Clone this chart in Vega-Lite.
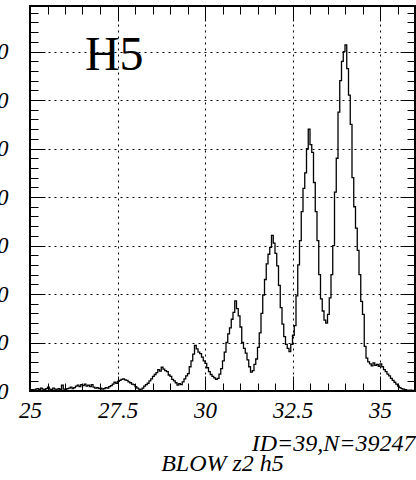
{
  "$schema": "https://vega.github.io/schema/vega-lite/v6.json",
  "autosize": {"type": "none"},
  "padding": {"left": 30, "top": 6, "right": 1, "bottom": 89},
  "width": 385,
  "height": 385,
  "background": "white",
  "config": {
    "view": {"stroke": "#000", "strokeWidth": 2},
    "axis": {"domain": false, "tickColor": "#000", "tickWidth": 1, "labelColor": "#000", "titleColor": "#000"}
  },
  "data": {"values": [
    {"x":25.00,"n":2},{"x":25.05,"n":3},{"x":25.10,"n":2},{"x":25.15,"n":4},{"x":25.20,"n":5},{"x":25.25,"n":3},{"x":25.30,"n":6},{"x":25.35,"n":4},{"x":25.40,"n":3},{"x":25.45,"n":5},
    {"x":25.50,"n":8},{"x":25.55,"n":4},{"x":25.60,"n":3},{"x":25.65,"n":6},{"x":25.70,"n":4},{"x":25.75,"n":2},{"x":25.80,"n":5},{"x":25.85,"n":3},{"x":25.90,"n":12},{"x":25.95,"n":4},
    {"x":26.00,"n":3},{"x":26.05,"n":5},{"x":26.10,"n":6},{"x":26.15,"n":8},{"x":26.20,"n":5},{"x":26.25,"n":7},{"x":26.30,"n":10},{"x":26.35,"n":12},{"x":26.40,"n":9},{"x":26.45,"n":13},
    {"x":26.50,"n":11},{"x":26.55,"n":14},{"x":26.60,"n":10},{"x":26.65,"n":12},{"x":26.70,"n":9},{"x":26.75,"n":13},{"x":26.80,"n":8},{"x":26.85,"n":6},{"x":26.90,"n":7},{"x":26.95,"n":5},
    {"x":27.00,"n":6},{"x":27.05,"n":4},{"x":27.10,"n":5},{"x":27.15,"n":7},{"x":27.20,"n":6},{"x":27.25,"n":9},{"x":27.30,"n":11},{"x":27.35,"n":14},{"x":27.40,"n":18},{"x":27.45,"n":16},
    {"x":27.50,"n":20},{"x":27.55,"n":22},{"x":27.60,"n":24},{"x":27.65,"n":25},{"x":27.70,"n":23},{"x":27.75,"n":22},{"x":27.80,"n":19},{"x":27.85,"n":17},{"x":27.90,"n":14},{"x":27.95,"n":13},
    {"x":28.00,"n":9},{"x":28.05,"n":6},{"x":28.10,"n":4},{"x":28.15,"n":2},{"x":28.20,"n":6},{"x":28.25,"n":10},{"x":28.30,"n":13},{"x":28.35,"n":16},{"x":28.40,"n":21},{"x":28.45,"n":25},
    {"x":28.50,"n":30},{"x":28.55,"n":34},{"x":28.60,"n":38},{"x":28.65,"n":44},{"x":28.70,"n":41},{"x":28.75,"n":49},{"x":28.80,"n":45},{"x":28.85,"n":42},{"x":28.90,"n":40},{"x":28.95,"n":33},
    {"x":29.00,"n":30},{"x":29.05,"n":24},{"x":29.10,"n":21},{"x":29.15,"n":17},{"x":29.20,"n":12},{"x":29.25,"n":15},{"x":29.30,"n":13},{"x":29.35,"n":19},{"x":29.40,"n":25},{"x":29.45,"n":31},
    {"x":29.50,"n":36},{"x":29.55,"n":50},{"x":29.60,"n":62},{"x":29.65,"n":76},{"x":29.70,"n":94},{"x":29.75,"n":87},{"x":29.80,"n":80},{"x":29.85,"n":77},{"x":29.90,"n":70},{"x":29.95,"n":62},
    {"x":30.00,"n":57},{"x":30.05,"n":48},{"x":30.10,"n":40},{"x":30.15,"n":34},{"x":30.20,"n":30},{"x":30.25,"n":27},{"x":30.30,"n":24},{"x":30.35,"n":26},{"x":30.40,"n":35},{"x":30.45,"n":46},
    {"x":30.50,"n":62},{"x":30.55,"n":80},{"x":30.60,"n":100},{"x":30.65,"n":118},{"x":30.70,"n":130},{"x":30.75,"n":148},{"x":30.80,"n":162},{"x":30.85,"n":186},{"x":30.90,"n":170},{"x":30.95,"n":155},
    {"x":31.00,"n":132},{"x":31.05,"n":100},{"x":31.10,"n":88},{"x":31.15,"n":78},{"x":31.20,"n":64},{"x":31.25,"n":50},{"x":31.30,"n":39},{"x":31.35,"n":42},{"x":31.40,"n":55},{"x":31.45,"n":66},
    {"x":31.50,"n":90},{"x":31.55,"n":120},{"x":31.60,"n":160},{"x":31.65,"n":198},{"x":31.70,"n":230},{"x":31.75,"n":262},{"x":31.80,"n":282},{"x":31.85,"n":296},{"x":31.90,"n":321},{"x":31.95,"n":305},
    {"x":32.00,"n":284},{"x":32.05,"n":258},{"x":32.10,"n":218},{"x":32.15,"n":172},{"x":32.20,"n":138},{"x":32.25,"n":112},{"x":32.30,"n":96},{"x":32.35,"n":88},{"x":32.40,"n":81},{"x":32.45,"n":96},
    {"x":32.50,"n":115},{"x":32.55,"n":135},{"x":32.60,"n":196},{"x":32.65,"n":260},{"x":32.70,"n":310},{"x":32.75,"n":370},{"x":32.80,"n":418},{"x":32.85,"n":450},{"x":32.90,"n":500},{"x":32.95,"n":540},
    {"x":33.00,"n":508},{"x":33.05,"n":492},{"x":33.10,"n":430},{"x":33.15,"n":370},{"x":33.20,"n":310},{"x":33.25,"n":240},{"x":33.30,"n":190},{"x":33.35,"n":165},{"x":33.40,"n":146},{"x":33.45,"n":140},
    {"x":33.50,"n":158},{"x":33.55,"n":192},{"x":33.60,"n":240},{"x":33.65,"n":300},{"x":33.70,"n":410},{"x":33.75,"n":480},{"x":33.80,"n":575},{"x":33.85,"n":640},{"x":33.90,"n":680},{"x":33.95,"n":700},
    {"x":34.00,"n":714},{"x":34.05,"n":665},{"x":34.10,"n":610},{"x":34.15,"n":550},{"x":34.20,"n":440},{"x":34.25,"n":380},{"x":34.30,"n":336},{"x":34.35,"n":290},{"x":34.40,"n":240},{"x":34.45,"n":185},
    {"x":34.50,"n":158},{"x":34.55,"n":92},{"x":34.60,"n":68},{"x":34.65,"n":60},{"x":34.70,"n":56},{"x":34.75,"n":52},{"x":34.80,"n":58},{"x":34.85,"n":53},{"x":34.90,"n":55},{"x":34.95,"n":51},
    {"x":35.00,"n":56},{"x":35.05,"n":50},{"x":35.10,"n":44},{"x":35.15,"n":40},{"x":35.20,"n":35},{"x":35.25,"n":31},{"x":35.30,"n":26},{"x":35.35,"n":22},{"x":35.40,"n":18},{"x":35.45,"n":14},
    {"x":35.50,"n":10},{"x":35.55,"n":7},{"x":35.60,"n":5},{"x":35.65,"n":4},{"x":35.70,"n":3},{"x":35.75,"n":2},{"x":35.80,"n":1},{"x":35.85,"n":2},{"x":35.90,"n":1},{"x":35.95,"n":0},
    {"x":36.00,"n":0}
  ]},
  "resolve": {"axis": {"x": "independent", "y": "independent"}},
  "layer": [
    {
      "mark": {"type": "line", "interpolate": "step-after", "color": "#000", "strokeWidth": 1.3, "clip": true},
      "encoding": {
        "x": {"field": "x", "type": "quantitative",
          "scale": {"domain": [25, 36], "nice": false, "zero": false},
          "axis": {"orient": "bottom", "values": [25, 27.5, 30, 32.5, 35], "format": ".1~f", "grid": true, "gridColor": "#000", "gridDash": [2, 4], "gridWidth": 1, "ticks": false,
            "labelFont": "Liberation Serif", "labelFontStyle": "italic", "labelFontSize": 23, "labelPadding": 8, "labelFlush": false, "labelOverlap": false,
            "title": "ID=39,N=39247", "titleFont": "Liberation Serif", "titleFontStyle": "italic", "titleFontWeight": "normal", "titleFontSize": 24,
            "titleX": 385, "titleY": 59, "titleAlign": "right", "titleBaseline": "alphabetic", "titleAngle": 0}},
        "y": {"field": "n", "type": "quantitative",
          "scale": {"domain": [0, 794], "nice": false, "zero": false},
          "axis": {"orient": "left", "values": [0, 100, 200, 300, 400, 500, 600, 700], "grid": true, "gridColor": "#000", "gridDash": [2, 4], "gridWidth": 1, "ticks": false,
            "labelFont": "Liberation Serif", "labelFontStyle": "italic", "labelFontSize": 23, "labelPadding": 22, "labelFlush": false, "labelOverlap": false, "labelBaseline": "middle",
            "title": null}}
      }
    },
    {
      "mark": {"type": "point", "opacity": 0},
      "encoding": {
        "x": {"field": "x", "type": "quantitative",
          "axis": {"orient": "bottom", "values": [25,25.5,26,26.5,27,27.5,28,28.5,29,29.5,30,30.5,31,31.5,32,32.5,33,33.5,34,34.5,35,35.5], "tickSize": -8, "labels": false, "grid": false,
            "title": "BLOW z2 h5", "titleFont": "Liberation Serif", "titleFontStyle": "italic", "titleFontWeight": "normal", "titleFontSize": 24,
            "titleX": 192, "titleY": 79, "titleAlign": "center", "titleBaseline": "alphabetic", "titleAngle": 0}},
        "y": {"field": "n", "type": "quantitative",
          "axis": {"orient": "left", "values": [0,20,40,60,80,100,120,140,160,180,200,220,240,260,280,300,320,340,360,380,400,420,440,460,480,500,520,540,560,580,600,620,640,660,680,700,720,740,760,780], "tickSize": -8, "labels": false, "grid": false, "title": null}}
      }
    },
    {
      "mark": {"type": "point", "opacity": 0},
      "encoding": {
        "x": {"field": "x", "type": "quantitative",
          "axis": {"orient": "bottom", "values": [25, 27.5, 30, 32.5, 35], "tickSize": -15, "labels": false, "grid": false, "title": null}},
        "y": {"field": "n", "type": "quantitative",
          "axis": {"orient": "left", "values": [0, 100, 200, 300, 400, 500, 600, 700], "tickSize": -15, "labels": false, "grid": false, "title": null}}
      }
    },
    {
      "mark": {"type": "point", "opacity": 0},
      "encoding": {
        "x": {"field": "x", "type": "quantitative",
          "axis": {"orient": "top", "values": [25,25.5,26,26.5,27,27.5,28,28.5,29,29.5,30,30.5,31,31.5,32,32.5,33,33.5,34,34.5,35,35.5], "tickSize": -8, "labels": false, "grid": false, "title": null}},
        "y": {"field": "n", "type": "quantitative",
          "axis": {"orient": "right", "values": [0,20,40,60,80,100,120,140,160,180,200,220,240,260,280,300,320,340,360,380,400,420,440,460,480,500,520,540,560,580,600,620,640,660,680,700,720,740,760,780], "tickSize": -8, "labels": false, "grid": false, "title": null}}
      }
    },
    {
      "mark": {"type": "point", "opacity": 0},
      "encoding": {
        "x": {"field": "x", "type": "quantitative",
          "axis": {"orient": "top", "values": [25, 27.5, 30, 32.5, 35], "tickSize": -15, "labels": false, "grid": false, "title": null}},
        "y": {"field": "n", "type": "quantitative",
          "axis": {"orient": "right", "values": [0, 100, 200, 300, 400, 500, 600, 700], "tickSize": -15, "labels": false, "grid": false, "title": null}}
      }
    },
    {
      "data": {"values": [{"label": "H5"}]},
      "mark": {"type": "text", "font": "Liberation Serif", "fontSize": 48, "align": "left", "baseline": "alphabetic", "color": "#000"},
      "encoding": {
        "x": {"datum": 26.57, "type": "quantitative", "axis": null},
        "y": {"datum": 662, "type": "quantitative", "axis": null},
        "text": {"field": "label", "type": "nominal"}
      }
    }
  ]
}
